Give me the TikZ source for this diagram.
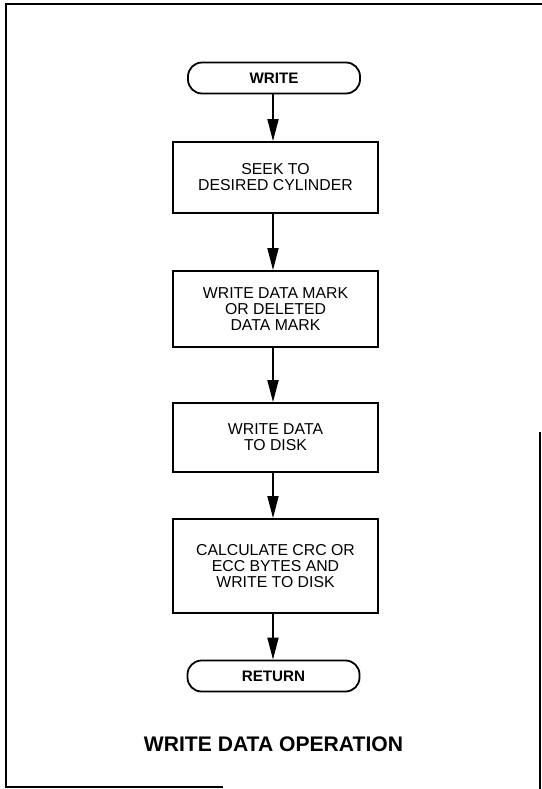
\documentclass[tikz,border=0pt]{standalone}
\usepackage{fontspec}
\setmainfont{Liberation Sans}
\usetikzlibrary{arrows.meta}
\begin{document}
\begin{tikzpicture}[x=1pt,y=-1pt,line width=1.8pt,
  stepbox/.style={draw, minimum width=205pt, align=center, inner sep=0pt,
    font=\fontsize{15.8}{16}\selectfont},
  term/.style={draw, rounded corners=14pt, minimum width=172pt, minimum height=31pt,
    inner sep=0pt, font=\bfseries\fontsize{15.2}{16}\selectfont},
  flow/.style={-{Triangle[length=22pt,width=11pt]}},
  frame/.style={line width=2pt, line cap=rect}]
\useasboundingbox (0,0) rectangle (541,789);
\draw[frame] (541,4) -- (6,4) -- (6,787) -- (222,787);
\draw[frame] (540,433) -- (540,789);

\node[term] (w) at (274,78) {WRITE};
\node[stepbox, minimum height=71pt] (b1) at (275.5,177.5) {SEEK TO\\DESIRED CYLINDER};
\node[stepbox, minimum height=76pt] (b2) at (275.5,309) {WRITE DATA MARK\\OR DELETED\\DATA MARK};
\node[stepbox, minimum height=69pt] (b3) at (275.5,437.5) {WRITE DATA\\TO DISK};
\node[stepbox, minimum height=94pt] (b4) at (275.5,566) {CALCULATE CRC OR\\ECC BYTES AND\\WRITE TO DISK};
\node[term] (r) at (273.5,676) {RETURN};
\node[font=\bfseries\fontsize{21.1}{22}\selectfont] (t) at (273.5,744) {WRITE DATA OPERATION};

\draw[flow] (w.south -| 273,0) -- (b1.north -| 273,0);
\draw[flow] (b1.south -| 273,0) -- (b2.north -| 273,0);
\draw[flow] (b2.south -| 273,0) -- (b3.north -| 273,0);
\draw[flow] (b3.south -| 273,0) -- (b4.north -| 273,0);
\draw[flow] (b4.south -| 273,0) -- (r.north -| 273,0);
\end{tikzpicture}
\end{document}
